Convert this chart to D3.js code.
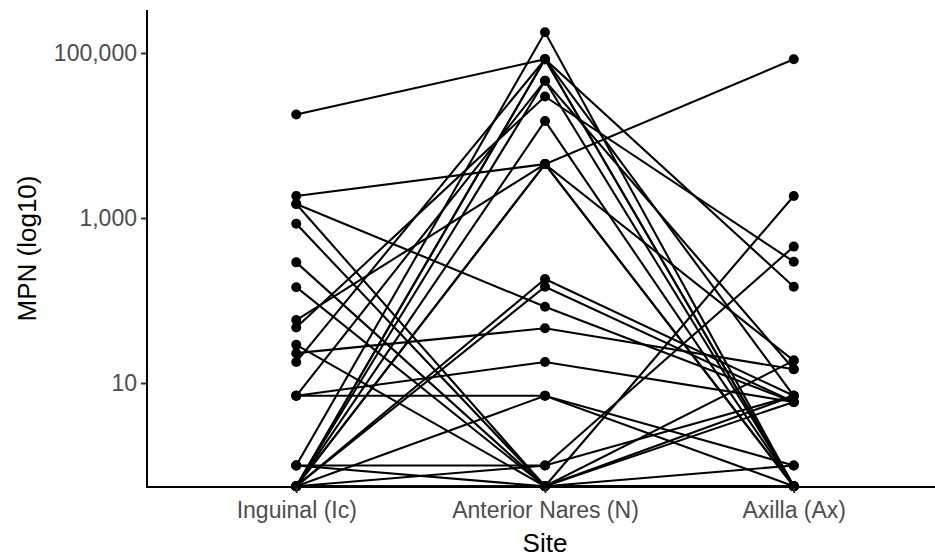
<!DOCTYPE html>
<html>
<head>
<meta charset="utf-8">
<script src="https://cdn.jsdelivr.net/npm/d3@7"></script>
<style>
  html, body { margin: 0; padding: 0; background: #fff; }
  svg { display: block; }
  text { font-family: "Liberation Sans", Arial, sans-serif; }
</style>
</head>
<body>
<svg id="chart" width="935" height="558"></svg>
<script>
// Sampling sites along the x axis
const sites = ["Inguinal (Ic)", "Anterior Nares (N)", "Axilla (Ax)"];

// MPN per participant at each site (0.56 = below detection, drawn on the floor)
const inguinal = [18000, 1850, 1480, 1480, 850, 290, 145, 58, 47, 29, 23, 18, 7, 7, 7, 1, 1,
                  0.56, 0.56, 0.56, 0.56, 0.56, 0.56, 0.56, 0.56, 0.56, 0.56, 0.56, 1, 0.56];
const nares    = [84000, 4500, 84, 0.56, 0.56, 0.56, 0.56, 4500, 29700, 0.56, 46, 84000, 7, 18, 46000, 1, 178000,
                  84000, 84000, 15000, 4500, 4500, 182, 147, 7, 1, 0.56, 0.56, 0.56, 46000];
const axilla   = [147, 84000, 5.9, 1850, 0.56, 0.56, 18.7, 0.56, 295, 7, 14.7, 0.56, 0.56, 5.9, 0.56, 7, 0.56,
                  7, 0.56, 0.56, 18.7, 0.56, 7, 5.9, 1, 450, 1, 0.56, 5.9, 14.7];

const yTicks = [10, 1000, 100000];
const xTitle = "Site";
const yTitle = "MPN (log10)";

const svg = d3.select("#chart");
const panel = { left: 147, right: 943, top: 10, bottom: 487 };

const x = d3.scalePoint()
  .domain(sites)
  .range([panel.left, panel.right])
  .padding(0.6);

const y = d3.scaleLog()
  .domain([0.549, 332000])
  .range([panel.bottom, panel.top]);

const subjects = inguinal.map((v, i) => [v, nares[i], axilla[i]]);

const line = d3.line()
  .x((d, i) => x(sites[i]))
  .y(d => y(d));

// Participant trajectories
svg.append("g")
  .selectAll("path")
  .data(subjects)
  .join("path")
  .attr("d", line)
  .attr("fill", "none")
  .attr("stroke", "#000")
  .attr("stroke-width", 2.1);

// Points
const pts = [];
subjects.forEach(s => s.forEach((v, i) => pts.push({ site: sites[i], v })));
svg.append("g")
  .selectAll("circle")
  .data(pts)
  .join("circle")
  .attr("cx", d => x(d.site))
  .attr("cy", d => y(d.v))
  .attr("r", 5)
  .attr("fill", "#000");

// Axes
const yAxis = d3.axisLeft(y)
  .tickValues(yTicks)
  .tickFormat(d3.format(","))
  .tickSize(6)
  .tickPadding(4);
const gy = svg.append("g")
  .attr("transform", `translate(${panel.left},0)`)
  .call(yAxis);
gy.select(".domain").remove();
gy.append("line")
  .attr("x1", 0).attr("x2", 0)
  .attr("y1", panel.top).attr("y2", panel.bottom + 1)
  .attr("stroke", "#000").attr("stroke-width", 2);

const xAxis = d3.axisBottom(x).tickSize(6).tickPadding(9);
const gx = svg.append("g")
  .attr("transform", `translate(0,${panel.bottom})`)
  .call(xAxis);
gx.select(".domain").remove();
gx.append("line")
  .attr("x1", panel.left - 1).attr("x2", panel.right)
  .attr("y1", 0).attr("y2", 0)
  .attr("stroke", "#000").attr("stroke-width", 2);

[gx, gy].forEach(g => {
  g.selectAll(".tick line").attr("stroke", "#333").attr("stroke-width", 2);
  g.selectAll(".tick text")
    .attr("fill", "#4d4d4d")
    .style("font-size", "23px");
});

// Axis titles
svg.append("text")
  .attr("x", x(sites[1]))
  .attr("y", 552)
  .attr("text-anchor", "middle")
  .attr("fill", "#000")
  .style("font-size", "26px")
  .text(xTitle);

svg.append("text")
  .attr("transform", `translate(36,${(panel.top + panel.bottom) / 2}) rotate(-90)`)
  .attr("text-anchor", "middle")
  .attr("fill", "#000")
  .style("font-size", "26px")
  .text(yTitle);
</script>
</body>
</html>
